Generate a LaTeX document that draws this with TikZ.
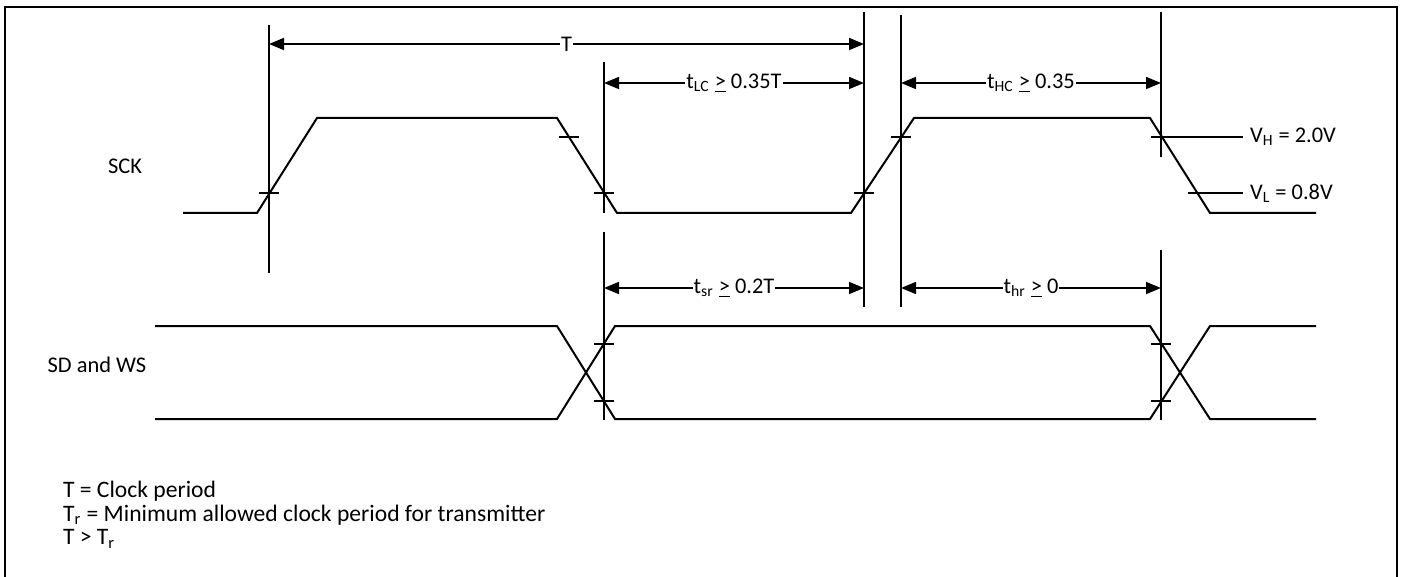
\documentclass[tikz,border=0pt]{standalone}
\usepackage{fontspec}
\setmainfont{Carlito}
\usetikzlibrary{arrows.meta}

\newcommand{\geqline}{\underline{>}}

\tikzset{
  wave/.style={line width=1pt, line join=miter},
  guide/.style={line width=0.9pt},
  tick/.style={line width=0.65pt},
  dim/.style={{Triangle[length=7.5pt,width=6pt]}-{Triangle[length=7.5pt,width=6pt]}, line width=0.8pt},
  dimlabel/.style={fill=white, inner xsep=0.5pt, inner ysep=0pt},
  note/.style={anchor=west, font=\fontsize{11.8}{13}\selectfont},
}

\begin{document}
\begin{tikzpicture}[x=0.5pt, y=-0.5pt, font=\fontsize{11.2}{13}\selectfont]
  \useasboundingbox (0,0) rectangle (1401,577);
  \draw[line width=1.3pt] (5,590) -- (5,7) -- (1397,7) -- (1397,590);

  % signal names
  \node (sck) at (125,166) {SCK};
  \node (sdws) at (97,365) {SD and WS};

  % SCK
  \draw[wave] (183,213) -- (257,213) -- (317,118) -- (557,118) -- (617,213)
    -- (851,213) -- (914,118) -- (1150,118) -- (1210,213) -- (1316,213);

  % SD and WS
  \draw[wave] (155,326) -- (557,326) -- (615,419) -- (1150,419) -- (1210,326) -- (1316,326);
  \draw[wave] (155,419) -- (557,419) -- (615,326) -- (1150,326) -- (1210,419) -- (1316,419);

  % reference lines
  \foreach \x/\ya/\yb in {269/25/273, 604/62/213, 604/232/420, 864/12/307,
                          901/15/307, 1161/12/157, 1161/250/420} {
    \draw[guide] (\x,\ya) -- (\x,\yb);
  };

  % level ticks
  \foreach \x/\y in {269/193, 569/137, 604/193, 864/193, 901/137,
                     604/344, 604/401, 1161/344, 1161/401} {
    \draw[tick] (\x-10,\y) -- (\x+10,\y);
  };

  % thresholds
  \node[anchor=west] (vh) at (1243,137) {V\textsubscript{H} = 2.0V};
  \node[anchor=west] (vl) at (1243,193) {V\textsubscript{L} = 0.8V};
  \draw[tick] (1151,137) -- (vh.west);
  \draw[tick] (1188,193) -- (vl.west);

  % timing arrows
  \coordinate (T-l) at (269,44);
  \coordinate (T-r) at (864,44);
  \coordinate (lc-l) at (604,83);
  \coordinate (lc-r) at (864,83);
  \coordinate (hc-l) at (901,83);
  \coordinate (hc-r) at (1161,83);
  \coordinate (sr-l) at (604,288);
  \coordinate (sr-r) at (864,288);
  \coordinate (hr-l) at (901,288);
  \coordinate (hr-r) at (1161,288);

  \draw[dim] (T-l) -- node[dimlabel] (T-lbl) {T} (T-r);
  \draw[dim] (lc-l) -- node[dimlabel] (lc-lbl) {t\textsubscript{LC} \geqline{} 0.35T} (lc-r);
  \draw[dim] (hc-l) -- node[dimlabel] (hc-lbl) {t\textsubscript{HC} \geqline{} 0.35} (hc-r);
  \draw[dim] (sr-l) -- node[dimlabel] (sr-lbl) {t\textsubscript{sr} \geqline{} 0.2T} (sr-r);
  \draw[dim] (hr-l) -- node[dimlabel] (hr-lbl) {t\textsubscript{hr} \geqline{} 0} (hr-r);

  % notes
  \node[note] (note1) at (56,491) {T = Clock period};
  \node[note] (note2) at (56,515) {T\textsubscript{r} = Minimum allowed clock period for transmitter};
  \node[note] (note3) at (56,539) {T > T\textsubscript{r}};
\end{tikzpicture}
\end{document}
